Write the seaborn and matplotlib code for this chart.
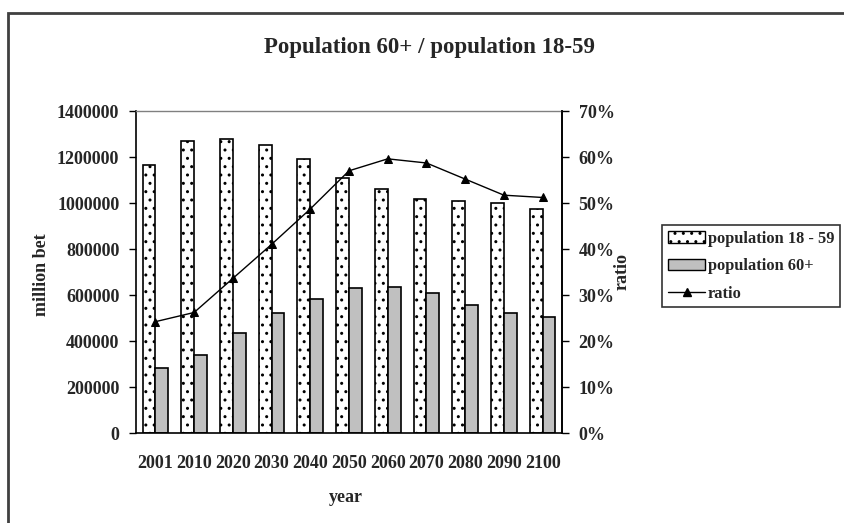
import numpy as np
import pandas as pd
import matplotlib
matplotlib.use("Agg")
import matplotlib.pyplot as plt
import seaborn as sns
from matplotlib.patches import Patch, Rectangle
from matplotlib.lines import Line2D
from matplotlib.ticker import FixedLocator, FuncFormatter

years = ["2001", "2010", "2020", "2030", "2040", "2050", "2060", "2070", "2080", "2090", "2100"]
pop_18_59 = [1165000, 1270000, 1278000, 1252000, 1191000, 1107000, 1061000, 1017000, 1009000, 999000, 975000]
pop_60 = [284000, 339000, 435000, 522000, 583000, 632000, 635000, 610000, 557000, 523000, 504000]
ratio = [0.242, 0.262, 0.336, 0.410, 0.487, 0.570, 0.596, 0.587, 0.552, 0.517, 0.512]
series_names = ["population 18 - 59", "population 60+", "ratio"]
left_ticks = [0, 200000, 400000, 600000, 800000, 1000000, 1200000, 1400000]
right_ticks = [0, 0.1, 0.2, 0.3, 0.4, 0.5, 0.6, 0.7]

sns.set_style("white")
plt.rcParams["font.family"] = ["Liberation Serif", "DejaVu Serif"]
plt.rcParams["font.weight"] = "bold"
plt.rcParams["hatch.linewidth"] = 1.0

W, H = 845, 523
fig = plt.figure(figsize=(W / 100, H / 100), dpi=100)
ax = fig.add_axes([136 / W, 1 - 433 / H, (562 - 136) / W, (433 - 111) / H])

df = pd.DataFrame({
    "year": years * 2,
    "value": pop_18_59 + pop_60,
    "series": [series_names[0]] * len(years) + [series_names[1]] * len(years),
})
sns.barplot(data=df, x="year", y="value", hue="series", order=years,
            hue_order=series_names[:2], palette=["white", "#C0C0C0"],
            edgecolor="black", linewidth=1.2, width=0.66, saturation=1,
            ax=ax, legend=False)
for cont_i, cont in enumerate(ax.containers):
    if cont_i == 0:
        for p in cont:
            p.set_hatch("..")

ax.set_ylim(0, 1400000)
ax.set_xlim(-0.5, len(years) - 0.5)
ax.yaxis.set_major_locator(FixedLocator(left_ticks))
ax.yaxis.set_major_formatter(FuncFormatter(lambda v, p: f"{int(v)}"))
ax.set_xlabel("")
ax.set_ylabel("")
ax.set_xticks(np.arange(-0.5, len(years), 1.0), minor=True)
ax.tick_params(axis="x", which="minor", length=5, width=1, color="black", direction="out")
ax.tick_params(axis="y", length=5, width=1, color="black", direction="out", labelsize=13, pad=7)

for s in ["left", "bottom", "right"]:
    ax.spines[s].set_color("black")
    ax.spines[s].set_linewidth(1.2)
ax.spines["top"].set_color("#808080")
ax.spines["top"].set_linewidth(1)

ax2 = ax.twinx()
rdf = pd.DataFrame({"year": years, "ratio": ratio})
sns.pointplot(data=rdf, x="year", y="ratio", order=years, color="black",
              markers="^", linestyles="-", markersize=6, linewidth=1, ax=ax2)
ax2.set_xlim(-0.5, len(years) - 0.5)
ax2.set_ylim(0, 0.7)
ax2.yaxis.set_major_locator(FixedLocator(right_ticks))
ax2.yaxis.set_major_formatter(FuncFormatter(lambda v, p: f"{round(v * 100)}%"))
ax2.tick_params(axis="y", length=5, width=1, color="black", direction="out", labelsize=13, pad=7)
ax2.set_ylabel("")
ax2.set_xlabel("")
for s in ["left", "bottom", "top"]:
    ax2.spines[s].set_visible(False)
ax2.spines["right"].set_color("black")
ax2.spines["right"].set_linewidth(1.2)
ax.tick_params(axis="x", which="major", length=0, pad=16, labelsize=13)
for lab in ax.get_xticklabels() + ax.get_yticklabels() + ax2.get_yticklabels():
    lab.set_fontweight("bold")

fig.text(430 / W, 1 - 47 / H, "Population 60+ / population 18-59", ha="center", va="center",
         fontsize=16.5, fontweight="bold")
fig.text(346 / W, 1 - 497 / H, "year", ha="center", va="center", fontsize=13, fontweight="bold")
fig.text(42 / W, 1 - 275 / H, "million bet", ha="center", va="center", rotation=90,
         fontsize=13, fontweight="bold")
fig.text(622 / W, 1 - 272 / H, "ratio", ha="center", va="center", rotation=90,
         fontsize=13, fontweight="bold")

handles = [
    Patch(facecolor="white", edgecolor="black", hatch="..", linewidth=1),
    Patch(facecolor="#C0C0C0", edgecolor="black", linewidth=1),
    Line2D([0], [0], color="black", lw=1, marker="^", markersize=6),
]
leg = fig.legend(handles, series_names, loc="upper left",
                 bbox_to_anchor=(662 / W, 1 - 225 / H), borderaxespad=0, frameon=True,
                 fancybox=False, edgecolor="black", fontsize=11.8, borderpad=0.35,
                 handlelength=2.3, handletextpad=0.15, labelspacing=0.7)
leg.get_frame().set_linewidth(1.2)
for t in leg.get_texts():
    t.set_fontweight("bold")

fig.patches.append(Rectangle((8 / W, -0.1), 1.2, 1.1 - 13 / H, transform=fig.transFigure,
                             fill=False, edgecolor="#404040", linewidth=2, figure=fig))

fig.savefig("out.png", dpi=100)
